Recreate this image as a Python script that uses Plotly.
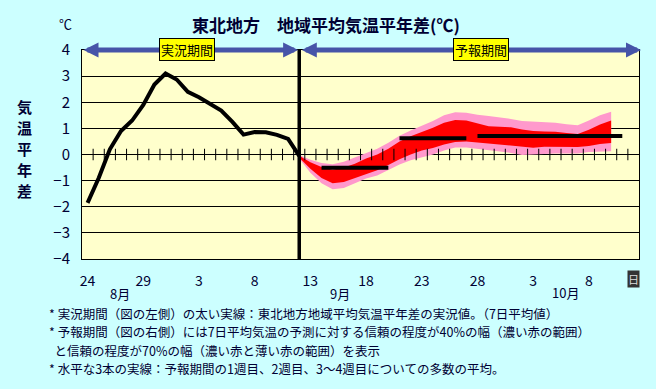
import plotly.graph_objects as go
import numpy as np

# ---------------- data ----------------
n_days = 50  # Aug 24 .. Oct 12 (daily categories)
day_idx = list(range(n_days))
tick_idx = [0, 5, 10, 15, 20, 25, 30, 35, 40, 45]
tick_labels = ["24", "29", "3", "8", "13", "18", "23", "28", "3", "8"]
month_labels = ["8月", "9月", "10月"]

obs_values = [-1.85, -0.9, 0.2, 0.9, 1.3, 1.9, 2.68, 3.1, 2.87, 2.4,
              2.19, 1.94, 1.68, 1.25, 0.76, 0.86, 0.85, 0.75, 0.6, -0.05]
forecast_start = 19  # Sep 12

pink_top = [-0.02, -0.2, -0.33, -0.37, -0.28, -0.12, 0.05, 0.22, 0.45, 0.72,
            0.92, 1.1, 1.28, 1.5, 1.62, 1.6, 1.52, 1.47, 1.42, 1.36,
            1.28, 1.26, 1.26, 1.22, 1.16, 1.12, 1.3, 1.5, 1.64]
red_top = [-0.05, -0.3, -0.48, -0.58, -0.5, -0.35, -0.15, 0.0, 0.22, 0.5,
           0.7, 0.85, 1.02, 1.22, 1.32, 1.3, 1.2, 1.08, 1.06, 1.04,
           0.96, 0.9, 0.88, 0.87, 0.82, 0.78, 0.95, 1.15, 1.3]
red_bot = [-0.12, -0.55, -0.9, -1.1, -1.05, -0.9, -0.72, -0.6, -0.4, -0.18,
           0.0, 0.15, 0.25, 0.38, 0.48, 0.5, 0.46, 0.42, 0.38, 0.33,
           0.28, 0.26, 0.3, 0.3, 0.29, 0.29, 0.33, 0.4, 0.44]
pink_bot = [-0.15, -0.7, -1.1, -1.33, -1.28, -1.1, -0.92, -0.8, -0.6, -0.38,
            -0.22, -0.12, 0.0, 0.15, 0.27, 0.27, 0.22, 0.18, 0.13, 0.06,
            -0.02, 0.0, 0.04, 0.04, 0.04, 0.04, 0.1, 0.12, 0.12]

week_values = [-0.51, 0.62, 0.71]
week_start_idx = [21, 28, 35]
week_end_idx = [27, 34, 48]

y_title_chars = ["気", "温", "平", "年", "差"]

notes = [
    "* 実況期間（図の左側）の太い実線：東北地方地域平均気温平年差の実況値。（7日平均値）",
    "* 予報期間（図の右側）には7日平均気温の予測に対する信頼の程度が40%の幅（濃い赤の範囲）",
    "  と信頼の程度が70%の幅（濃い赤と薄い赤の範囲）を表示",
    "* 水平な3本の実線：予報期間の1週目、2週目、3～4週目についての多数の平均。",
]

# ---------------- layout geometry ----------------
W, H = 656, 389
L, R, T, B = 82, 639, 50, 259
FONT = "Noto Sans CJK JP"
NAVY = "#000033"


def px_x(x):
    return (x - L) / (R - L)


def px_y(y):
    return (B - y) / (B - T)


fc_idx = list(range(forecast_start, forecast_start + len(pink_top)))

fig = go.Figure()

# pink band (70%)
fig.add_trace(go.Scatter(x=fc_idx, y=pink_top, mode="lines", line=dict(width=0),
                         showlegend=False, hoverinfo="skip"))
fig.add_trace(go.Scatter(x=fc_idx, y=pink_bot, mode="lines", line=dict(width=0),
                         fill="tonexty", fillcolor="#FF99CC",
                         showlegend=False, hoverinfo="skip"))
# red band (40%)
fig.add_trace(go.Scatter(x=fc_idx, y=red_top, mode="lines", line=dict(width=0),
                         showlegend=False, hoverinfo="skip"))
fig.add_trace(go.Scatter(x=fc_idx, y=red_bot, mode="lines", line=dict(width=0),
                         fill="tonexty", fillcolor="#FF0000",
                         showlegend=False, hoverinfo="skip"))

# tick marks on the zero line (category boundaries)
tx, ty = [], []
for k in range(n_days - 1):
    tx += [k + 0.5, k + 0.5, None]
    ty += [-0.22, 0.22, None]
fig.add_trace(go.Scatter(x=tx, y=ty, mode="lines", line=dict(color="black", width=1),
                         showlegend=False, hoverinfo="skip"))

# observed line
fig.add_trace(go.Scatter(x=day_idx[:len(obs_values)], y=obs_values, mode="lines",
                         line=dict(color="black", width=4), showlegend=False))

# weekly mean bars
for v, s, e in zip(week_values, week_start_idx, week_end_idx):
    fig.add_trace(go.Scatter(x=[s, e], y=[v, v], mode="lines",
                             line=dict(color="black", width=4), showlegend=False))

# vertical divider
fig.add_shape(type="line", xref="x", yref="paper", x0=forecast_start, x1=forecast_start,
              y0=0, y1=1, line=dict(color="black", width=3.5), layer="above")

# period arrows
ARROW = "#4654A8"
for x0, x1 in [(-0.5, forecast_start - 0.1), (forecast_start + 0.1, n_days - 0.32)]:
    fig.add_annotation(x=x1, y=4, ax=x0, ay=4, xref="x", yref="y", axref="x", ayref="y",
                       text="", showarrow=True, arrowhead=2, startarrowhead=2,
                       arrowside="end+start", arrowwidth=5, arrowsize=0.6, startarrowsize=0.6,
                       arrowcolor=ARROW)

for txt, xc in [("実況期間", 186.5), ("予報期間", 480.5)]:
    fig.add_annotation(x=px_x(xc), y=px_y(49.5), xref="paper", yref="paper", text=txt,
                       showarrow=False, bgcolor="#FFFF00", bordercolor="black", borderwidth=1,
                       borderpad=1, font=dict(family=FONT, size=13, color="black"),
                       xanchor="center", yanchor="middle")

# title & units
fig.add_annotation(x=px_x(325.5), y=px_y(24), xref="paper", yref="paper",
                   text="<b>東北地方　地域平均気温平年差(℃)</b>", showarrow=False,
                   font=dict(family=FONT, size=17, color=NAVY), xanchor="center", yanchor="middle")
fig.add_annotation(x=px_x(65), y=px_y(23), xref="paper", yref="paper", text="℃",
                   showarrow=False, font=dict(family=FONT, size=13, color=NAVY),
                   xanchor="center", yanchor="middle")
# vertical y-axis title, one character per row
for i, ch in enumerate(y_title_chars):
    fig.add_annotation(x=px_x(24), y=px_y(106.5 + 21 * i), xref="paper", yref="paper",
                       text="<b>" + ch + "</b>", showarrow=False,
                       font=dict(family=FONT, size=15, color=NAVY),
                       xanchor="center", yanchor="middle")

# month labels
for txt, xc, yc in zip(month_labels, [119.5, 339.5, 565], [293, 293, 292]):
    fig.add_annotation(x=px_x(xc), y=px_y(yc), xref="paper", yref="paper", text=txt,
                       showarrow=False, font=dict(family=FONT, size=13, color=NAVY),
                       xanchor="center", yanchor="middle")
# "日" box
fig.add_annotation(x=px_x(633.5), y=px_y(278.5), xref="paper", yref="paper", text="日",
                   showarrow=False, bgcolor="#333333", borderpad=0,
                   font=dict(family=FONT, size=11, color="#DDDDDD"),
                   xanchor="center", yanchor="middle")

# notes, one text per line
for i, txt in enumerate(notes):
    fig.add_annotation(x=px_x(47), y=px_y(313.5 + 18.3 * i), xref="paper", yref="paper",
                       text=txt, showarrow=False,
                       font=dict(family=FONT, size=12.5, color=NAVY),
                       xanchor="left", yanchor="middle", align="left")

fig.update_xaxes(range=[-0.5, n_days - 0.5], tickvals=tick_idx, ticktext=tick_labels,
                 showgrid=False, zeroline=False, showline=True, linecolor="black", linewidth=1,
                 mirror=True, ticks="outside", ticklen=9, tickcolor="rgba(0,0,0,0)",
                 tickfont=dict(family=FONT, size=14, color=NAVY))
fig.update_yaxes(range=[-4, 4], dtick=1, showgrid=True, gridcolor="black", gridwidth=1,
                 zeroline=True, zerolinecolor="black", zerolinewidth=1,
                 showline=True, linecolor="black", linewidth=1, mirror=True,
                 ticks="outside", ticklen=8, tickcolor="rgba(0,0,0,0)",
                 tickfont=dict(family=FONT, size=15, color=NAVY))

fig.update_layout(width=W, height=H, margin=dict(l=L, r=W - R, t=T, b=H - B),
                  paper_bgcolor="#CCFFFF", plot_bgcolor="#FFFFCC", showlegend=False)

fig.write_html("out.html", config={"displayModeBar": False},
               post_script="document.body.style.margin='0';")
